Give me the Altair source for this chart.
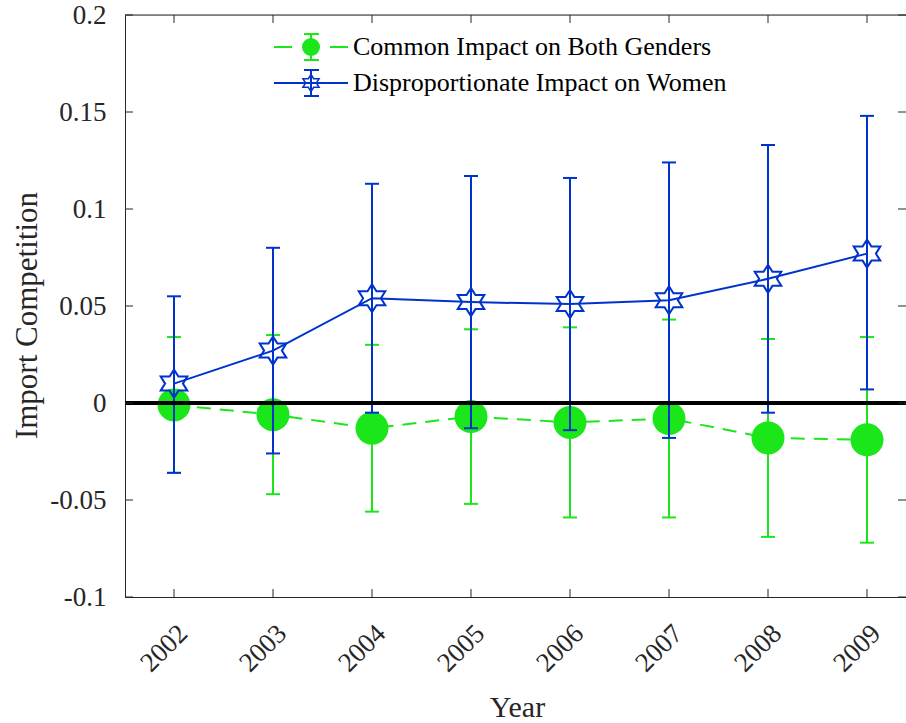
import altair as alt
import pandas as pd

# ---- data ----
years = [2002, 2003, 2004, 2005, 2006, 2007, 2008, 2009]
common = [-0.001, -0.006, -0.013, -0.007, -0.010, -0.008, -0.018, -0.019]
common_lo = [-0.036, -0.047, -0.056, -0.052, -0.059, -0.059, -0.069, -0.072]
common_hi = [0.034, 0.035, 0.030, 0.038, 0.039, 0.043, 0.033, 0.034]
women = [0.010, 0.027, 0.054, 0.052, 0.051, 0.053, 0.064, 0.077]
women_lo = [-0.036, -0.026, -0.005, -0.013, -0.014, -0.018, -0.005, 0.007]
women_hi = [0.055, 0.080, 0.113, 0.117, 0.116, 0.124, 0.133, 0.148]
y_ticks = [-0.1, -0.05, 0, 0.05, 0.1, 0.15, 0.2]
series_names = ["Common Impact on Both Genders", "Disproportionate Impact on Women"]

df = pd.DataFrame({
    "year": years,
    "common": common, "common_lo": common_lo, "common_hi": common_hi,
    "women": women, "women_lo": women_lo, "women_hi": women_hi,
})
ytick_df = pd.DataFrame({"v": y_ticks})
one = alt.Data(values=[{"a": 1}])

W, H = 781, 582
GREEN = "#1ae61a"
BLUE = "#0033cc"
AXC = "#262626"
FONT = "Liberation Serif"
HEX = ("M0,-1 L0.3175,-0.5 L0.95,-0.5 L0.635,0 L0.95,0.5 L0.3175,0.5 L0,1 "
       "L-0.3175,0.5 L-0.95,0.5 L-0.635,0 L-0.95,-0.5 L-0.3175,-0.5 Z")

x_lo = 2002 - 49 / 99
xscale = alt.Scale(domain=[x_lo, x_lo + W / 99], nice=False, zero=False)
yscale = alt.Scale(domain=[-0.1, 0.2], nice=False, zero=False)

xaxis = alt.Axis(
    values=years, format="d", labelAngle=315, labelAlign="right", labelBaseline="middle",
    labelPadding=32, labelOffset=9, ticks=False, tickSize=0, grid=False,
    domainColor=AXC, domainWidth=1, labelColor=AXC, labelFont=FONT, labelFontSize=27,
    labelOverlap=False, labelFlush=False,
    title="Year", titleFont=FONT, titleFontSize=30, titleFontWeight="normal",
    titleColor=AXC, titleX=392, titleY=119, titleBaseline="alphabetic", titleAlign="center",
)
yaxis = alt.Axis(
    values=y_ticks, labelExpr="replace(format(datum.value, '.2~f'), '\u2212', '-')",
    labelPadding=19, ticks=False, tickSize=0, grid=False,
    domainColor=AXC, domainWidth=1, labelColor=AXC, labelFont=FONT, labelFontSize=27,
    labelOverlap=False, labelFlush=False,
    title="Import Competition", titleFont=FONT, titleFontSize=31, titleFontWeight="normal",
    titleColor=AXC, titleX=-98, titleY=300, titleAngle=270, titleBaseline="middle",
    titleAlign="center",
)

X = alt.X("year:Q", scale=xscale, axis=xaxis, title="Year")
def Y(f):
    return alt.Y(f"{f}:Q", scale=yscale, axis=yaxis, title="Import Competition")

base = alt.Chart(df)

# green series
g_err = base.mark_rule(color=GREEN, strokeWidth=2).encode(x=X, y=Y("common_lo"), y2="common_hi:Q")
g_cap_lo = base.mark_tick(color=GREEN, thickness=2, size=14, orient="horizontal", opacity=1).encode(x=X, y=Y("common_lo"))
g_cap_hi = base.mark_tick(color=GREEN, thickness=2, size=14, orient="horizontal", opacity=1).encode(x=X, y=Y("common_hi"))
g_line = base.mark_line(color=GREEN, strokeWidth=2, strokeDash=[14, 9]).encode(x=X, y=Y("common"))
g_pts = base.mark_point(shape="circle", filled=True, fill=GREEN, size=1089, opacity=1, strokeWidth=0).encode(x=X, y=Y("common"))

# blue series
b_err = base.mark_rule(color=BLUE, strokeWidth=2).encode(x=X, y=Y("women_lo"), y2="women_hi:Q")
b_cap_lo = base.mark_tick(color=BLUE, thickness=2, size=14, orient="horizontal", opacity=1).encode(x=X, y=Y("women_lo"))
b_cap_hi = base.mark_tick(color=BLUE, thickness=2, size=14, orient="horizontal", opacity=1).encode(x=X, y=Y("women_hi"))
b_line = base.mark_line(color=BLUE, strokeWidth=2).encode(x=X, y=Y("women"))
b_pts = base.mark_point(shape=HEX, filled=False, stroke=BLUE, strokeWidth=2, size=784, opacity=1).encode(x=X, y=Y("women"))

# zero line
zero = alt.Chart(one).mark_rule(color="black", strokeWidth=4).encode(
    y=alt.datum(0, scale=yscale, axis=yaxis, title="Import Competition"))

# inward ticks and box
yt = alt.Chart(ytick_df)
tick_l = yt.mark_rule(color=AXC, strokeWidth=1).encode(y=Y("v"), x=alt.value(0), x2=alt.value(8))
tick_r = yt.mark_rule(color=AXC, strokeWidth=1).encode(y=Y("v"), x=alt.value(W - 8), x2=alt.value(W))
tick_b = base.mark_rule(color=AXC, strokeWidth=1).encode(x=X, y=alt.value(H - 8), y2=alt.value(H))
tick_t = base.mark_rule(color=AXC, strokeWidth=1).encode(x=X, y=alt.value(0), y2=alt.value(8))
top_border = alt.Chart(one).mark_rule(color=AXC, strokeWidth=1).encode(x=alt.value(0), x2=alt.value(W), y=alt.value(0))

# manual legend (pixel positions inside plot area)
lc = alt.Chart(one)
LG, LB = 32, 68
leg = [
    lc.mark_rule(color=GREEN, strokeWidth=2, strokeDash=[18, 10]).encode(x=alt.value(149), x2=alt.value(223), y=alt.value(LG)),
    lc.mark_rule(color=GREEN, strokeWidth=2).encode(x=alt.value(186), y=alt.value(LG - 13), y2=alt.value(LG + 13)),
    lc.mark_rule(color=GREEN, strokeWidth=2).encode(x=alt.value(179), x2=alt.value(194), y=alt.value(LG - 13)),
    lc.mark_rule(color=GREEN, strokeWidth=2).encode(x=alt.value(179), x2=alt.value(194), y=alt.value(LG + 13)),
    lc.mark_point(shape="circle", filled=True, fill=GREEN, size=324, opacity=1, strokeWidth=0).encode(x=alt.value(186), y=alt.value(LG)),
    lc.mark_text(align="left", baseline="middle", font=FONT, fontSize=26, color="black").encode(
        x=alt.value(228), y=alt.value(LG), text=alt.value(series_names[0])),
    lc.mark_rule(color=BLUE, strokeWidth=2).encode(x=alt.value(149), x2=alt.value(223), y=alt.value(LB)),
    lc.mark_rule(color=BLUE, strokeWidth=2).encode(x=alt.value(186), y=alt.value(LB - 13), y2=alt.value(LB + 13)),
    lc.mark_rule(color=BLUE, strokeWidth=2).encode(x=alt.value(179), x2=alt.value(194), y=alt.value(LB - 13)),
    lc.mark_rule(color=BLUE, strokeWidth=2).encode(x=alt.value(179), x2=alt.value(194), y=alt.value(LB + 13)),
    lc.mark_point(shape=HEX, filled=False, stroke=BLUE, strokeWidth=1.5, size=289, opacity=1).encode(x=alt.value(186), y=alt.value(LB)),
    lc.mark_text(align="left", baseline="middle", font=FONT, fontSize=26, color="black").encode(
        x=alt.value(228), y=alt.value(LB), text=alt.value(series_names[1])),
]

chart = alt.layer(
    g_err, g_cap_lo, g_cap_hi, g_line, g_pts,
    b_err, b_cap_lo, b_cap_hi, b_line, b_pts,
    zero, tick_l, tick_r, tick_b, tick_t, top_border,
    *leg,
).properties(
    width=W, height=H,
    autosize=alt.AutoSizeParams(type="none"),
    padding={"left": 125, "top": 15, "right": 0, "bottom": 126},
    background="white",
).configure_view(
    stroke=None
).configure_axis(
    labelFont=FONT, titleFont=FONT, labelFontSize=27, labelColor=AXC, titleColor=AXC,
    titleFontWeight="normal",
).configure(font=FONT)

chart.save("out.html", embed_options={"renderer": "svg", "actions": False})
